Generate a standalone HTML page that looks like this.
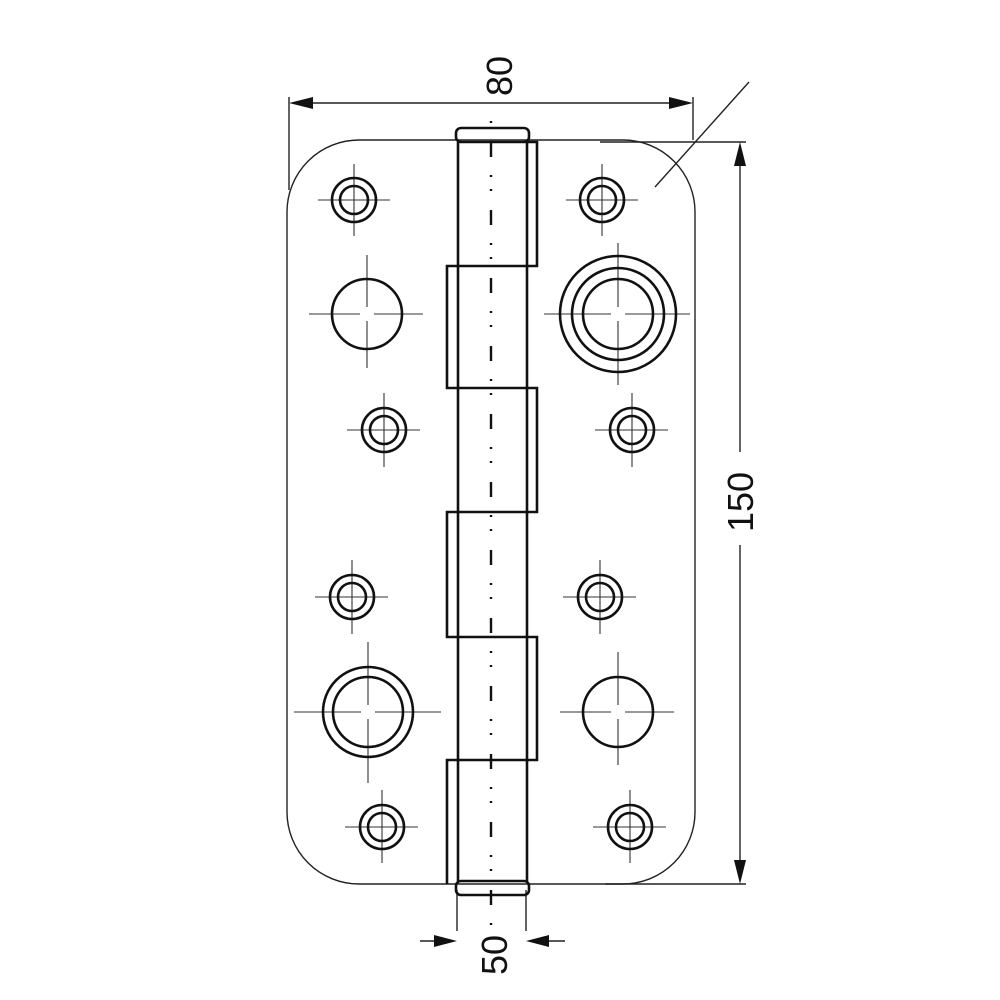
<!DOCTYPE html>
<html><head><style>html,body{margin:0;padding:0;background:#fff}svg{display:block}</style></head>
<body>
<svg width="1000" height="1000" viewBox="0 0 1000 1000" xmlns="http://www.w3.org/2000/svg">
<g fill="none" stroke="#222" stroke-width="1.4">
  <path d="M359 140 H623 A72 72 0 0 1 695 212 V812 A72 72 0 0 1 623 884 H359 A72 72 0 0 1 287 812 V212 A72 72 0 0 1 359 140 Z"/>
  <line x1="289" y1="97" x2="289" y2="190"/>
  <line x1="693" y1="97" x2="693" y2="140"/>
  <line x1="300" y1="103" x2="682" y2="103"/>
  <line x1="600" y1="142" x2="746" y2="142"/>
  <line x1="605" y1="884" x2="746" y2="884"/>
  <line x1="740" y1="155" x2="740" y2="452"/>
  <line x1="740" y1="545" x2="740" y2="872"/>
  <line x1="457" y1="890" x2="457" y2="931"/>
  <line x1="526" y1="890" x2="526" y2="931"/>
  <line x1="420" y1="941" x2="445" y2="941"/>
  <line x1="540" y1="941" x2="565" y2="941"/>
  <line x1="749" y1="82" x2="655" y2="187"/>
</g>
<g fill="#111">
  <polygon points="289,103 313,97 313,109"/>
  <polygon points="693,103 669,97 669,109"/>
  <polygon points="740,142 734,166 746,166"/>
  <polygon points="740,884 734,860 746,860"/>
  <polygon points="457,941 434,935 434,947"/>
  <polygon points="526,941 549,935 549,947"/>
</g>
<g stroke="#333" stroke-width="1.1" fill="none">
  <path d="M318 200 H390 M354 164 V236"/>
  <path d="M566 200 H638 M602 164 V236"/>
  <path d="M347 430 H420 M384 393 V467"/>
  <path d="M595 430 H668 M632 393 V467"/>
  <path d="M315 597 H388 M352 560 V634"/>
  <path d="M563 597 H636 M600 560 V634"/>
  <path d="M345 827 H418 M382 790 V863"/>
  <path d="M593 827 H666 M630 790 V863"/>
  <path d="M309 314 H360 M374 314 H423 M367 255 V307 M367 321 V368"/>
  <path d="M544 314 H611 M625 314 H690 M618 243 V307 M618 321 V385"/>
  <path d="M294 712 H361 M375 712 H441 M368 642 V705 M368 719 V783"/>
  <path d="M560 712 H611 M625 712 H674 M618 652 V705 M618 719 V765"/>
</g>
<g fill="none" stroke="#111" stroke-width="2.6">
  <circle cx="354" cy="200" r="22"/><circle cx="354" cy="200" r="14"/>
  <circle cx="602" cy="200" r="22"/><circle cx="602" cy="200" r="14"/>
  <circle cx="384" cy="430" r="22"/><circle cx="384" cy="430" r="14"/>
  <circle cx="632" cy="430" r="22"/><circle cx="632" cy="430" r="14"/>
  <circle cx="352" cy="597" r="22"/><circle cx="352" cy="597" r="14"/>
  <circle cx="600" cy="597" r="22"/><circle cx="600" cy="597" r="14"/>
  <circle cx="382" cy="827" r="22"/><circle cx="382" cy="827" r="14"/>
  <circle cx="630" cy="827" r="22"/><circle cx="630" cy="827" r="14"/>
  <circle cx="367" cy="314" r="35"/>
  <circle cx="618" cy="314" r="58"/><circle cx="618" cy="314" r="46"/><circle cx="618" cy="314" r="35"/>
  <circle cx="368" cy="712" r="45"/><circle cx="368" cy="712" r="35"/>
  <circle cx="618" cy="712" r="35"/>
  <rect x="456" y="128" width="73" height="14" rx="5"/>
  <rect x="456" y="881" width="73" height="14" rx="5"/>
  <line x1="458" y1="142" x2="458" y2="881"/>
  <line x1="527" y1="142" x2="527" y2="881"/>
  <path d="M527 142 H537 V266 H447 V388 H537 V512 H447 V637 H537 V760 H447 V884"/>
</g>
<line x1="491" y1="110" x2="491" y2="950" stroke="#111" stroke-width="2.4" stroke-dasharray="15 18 2 12 2 19" stroke-dashoffset="36"/>
<g font-family="Liberation Sans, sans-serif" font-size="36" fill="#111" text-anchor="middle">
  <text transform="translate(512,76) rotate(-90)">80</text>
  <text transform="translate(753,502) rotate(-90)">150</text>
  <text transform="translate(507,955) rotate(-90)">50</text>
</g>
</svg>
</body></html>
